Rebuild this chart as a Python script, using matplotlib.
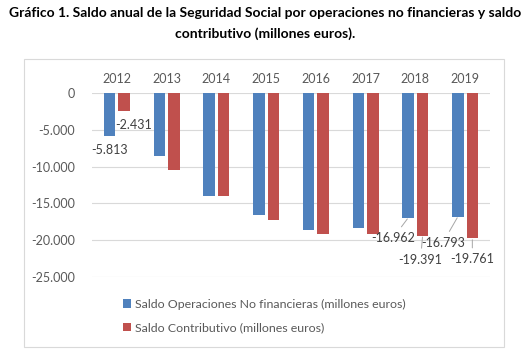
import numpy as np
import matplotlib
matplotlib.use("Agg")
import matplotlib.pyplot as plt
from matplotlib.patches import Rectangle
from matplotlib.ticker import FuncFormatter

plt.rcParams["font.family"] = ["Lato", "DejaVu Sans"]

years = ["2012", "2013", "2014", "2015", "2016", "2017", "2018", "2019"]
saldo_no_fin = [-5813, -8600, -13950, -16600, -18650, -18350, -16962, -16793]
saldo_contrib = [-2431, -10500, -13950, -17300, -19150, -19150, -19391, -19761]
label_no_fin = "Saldo Operaciones No financieras (millones euros)"
label_contrib = "Saldo Contributivo (millones euros)"

BLUE = "#4F81BD"
RED = "#C0504D"
GREY_TXT = "#595959"


def es_fmt(v, pos=None):
    s = f"{abs(int(round(v))):,}".replace(",", ".")
    return ("-" if v < 0 else "") + s


fig = plt.figure(figsize=(5.31, 3.51), dpi=100)
W, H = 531, 351

fig.text(0.5, 1 - 13 / H, "Gráfico 1. Saldo anual de la Seguridad Social por operaciones no financieras y saldo",
         ha="center", va="center", fontsize=10, fontweight="bold")
fig.text(0.5, 1 - 34 / H, "contributivo (millones euros).",
         ha="center", va="center", fontsize=10, fontweight="bold")

fig.patches.append(Rectangle((24 / W, 1 - 347 / H), 480 / W, 288 / H, transform=fig.transFigure,
                             fill=False, edgecolor="#D9D9D9", lw=0.8))

ax = fig.add_axes([92 / W, 1 - 277 / H, 398 / W, 184 / H])
x = np.arange(len(years))
bw = 0.23
off = 0.145
b1 = ax.bar(x - off, saldo_no_fin, bw, color=BLUE, label=label_no_fin, zorder=3)
b2 = ax.bar(x + off, saldo_contrib, bw, color=RED, label=label_contrib, zorder=3)

ax.set_xlim(-0.5, len(years) - 0.5)
ax.set_ylim(-25000, 0)
ax.set_yticks(np.arange(-25000, 1, 5000))
ax.yaxis.set_major_formatter(FuncFormatter(es_fmt))
ax.xaxis.tick_top()
ax.set_xticks(x)
ax.set_xticklabels(years)
ax.tick_params(axis="both", length=0, labelsize=9, colors=GREY_TXT)
ax.tick_params(axis="x", pad=6)
ax.tick_params(axis="y", pad=12)
ax.grid(axis="y", color="#D9D9D9", lw=0.8, zorder=0)
for s in ax.spines.values():
    s.set_visible(False)

# data labels (2012, 2018, 2019 only)
lab_kw = dict(textcoords="offset pixels", ha="center", va="center", fontsize=9, color="#404040", zorder=5)
lead = dict(arrowstyle="-", color="#A6A6A6", lw=0.7, shrinkA=2, shrinkB=1)
ax.annotate(es_fmt(saldo_no_fin[0]), (x[0] - off, saldo_no_fin[0]), xytext=(0, -14), **lab_kw)
ax.annotate(es_fmt(saldo_contrib[0]), (x[0] + off, saldo_contrib[0]), xytext=(10, -14), **lab_kw)
ax.annotate(es_fmt(saldo_no_fin[6]), (x[6] - off, saldo_no_fin[6]), xytext=(-15, -20), arrowprops=lead, **lab_kw)
ax.annotate(es_fmt(saldo_contrib[6]), (x[6] + off, saldo_contrib[6]), xytext=(-2, -24), arrowprops=lead, **lab_kw)
ax.annotate(es_fmt(saldo_no_fin[7]), (x[7] - off, saldo_no_fin[7]), xytext=(-15, -26), arrowprops=lead, **lab_kw)
ax.annotate(es_fmt(saldo_contrib[7]), (x[7] + off, saldo_contrib[7]), xytext=(0, -21), arrowprops=lead, **lab_kw)

fig.legend(handles=[b1, b2], labels=[label_no_fin, label_contrib], loc="center left",
           bbox_to_anchor=(123 / W, 1 - 316 / H), frameon=False, fontsize=8.9,
           handlelength=0.65, handleheight=0.65, handletextpad=0.3, labelspacing=1.0,
           labelcolor=GREY_TXT, borderpad=0, borderaxespad=0)

fig.savefig("out.png", dpi=100)
